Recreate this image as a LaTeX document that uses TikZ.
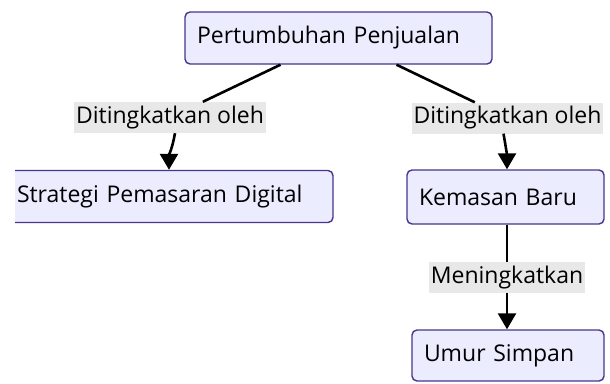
\documentclass[tikz,border=0pt]{standalone}
\usepackage{fontspec}
\setmainfont{Open Sans}
\usepackage{tikz}
\usetikzlibrary{arrows.meta}
\definecolor{boxfill}{RGB}{236,236,255}
\definecolor{boxline}{RGB}{72,52,140}
\definecolor{labelgray}{RGB}{232,232,232}

\begin{document}
\begin{tikzpicture}[x=1pt,y=-1pt,
  box/.style={draw=boxline,fill=boxfill,line width=1.4pt,rounded corners=5pt,
    align=left,inner xsep=12pt,inner ysep=0pt,minimum height=52pt,font=\fontsize{23}{26}\selectfont},
  lbl/.style={fill=labelgray,inner xsep=2pt,inner ysep=0pt,minimum height=31pt,font=\fontsize{23}{26}\selectfont},
  link/.style={line width=2.6pt,black},
  tip/.style={-{Triangle[width=18pt,length=16pt]}}]
\useasboundingbox (0,0) rectangle (610,383);
\clip (15,0) rectangle (610,383);
\node[box,text width=283pt] (growth) at (338.5,38) {Pertumbuhan Penjualan};
\node[box,text width=304pt] (digital) at (169,196.5) {Strategi Pemasaran Digital};
\node[box,text width=173pt,minimum height=54pt] (pack) at (505.5,197) {Kemasan Baru};
\node[box,text width=168pt,minimum height=51pt] (shelf) at (508,355.5) {Umur Simpan};
%labels
\node[lbl] (byA) at (170,117.5) {Ditingkatkan oleh};
\node[lbl] (byB) at (507.5,118) {Ditingkatkan oleh};
\node[lbl] (up) at (507,277.5) {Meningkatkan};
%edges
\draw[link] ([xshift=-58pt]growth.south) -- (byA);
\draw[link,tip] ([xshift=5pt]byA.south) to[out=-100,in=90] (digital.north);
\draw[link] ([xshift=58pt]growth.south) -- (byB);
\draw[link,tip] ([xshift=-4pt]byB.south) to[out=-80,in=90] ([xshift=1.5pt]pack.north);
\draw[link] ([xshift=1.5pt]pack.south) -- (up);
\draw[link,tip] (up.south) -- (up.south |- shelf.north);
\end{tikzpicture}
\end{document}
